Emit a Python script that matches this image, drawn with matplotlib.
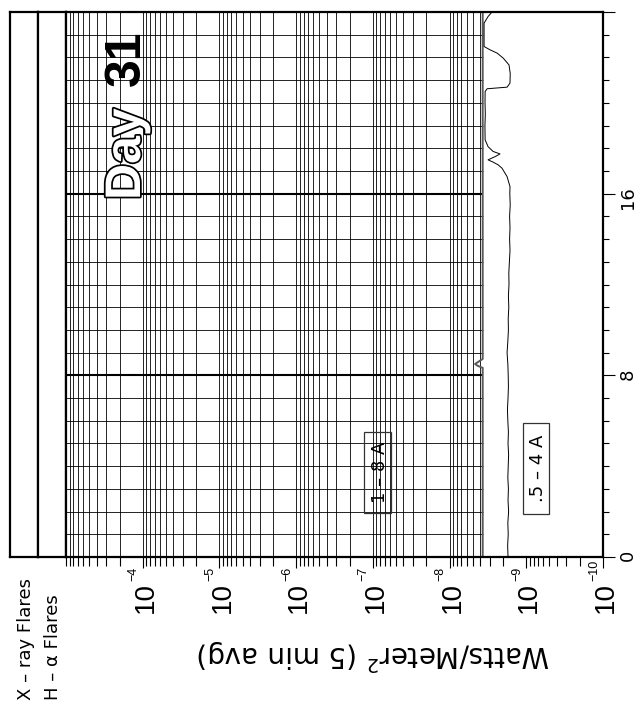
import matplotlib
matplotlib.use('Agg')
import matplotlib.pyplot as plt
import matplotlib.patheffects as pe
from matplotlib.patches import Rectangle
from matplotlib.transforms import offset_copy

plt.rcParams['font.family'] = ['DejaVu Sans']

# GOES x-ray flux, day 31 (hours UT vs W/m^2)
long_hours = [0.0, 8.33, 8.42, 8.50, 8.60, 8.72, 24.0]
long_flux = [3.7e-9, 3.7e-9, 4.3e-9, 4.65e-9, 4.2e-9, 3.7e-9, 3.7e-9]

short_hours = [0.0, 0.5, 1.0, 1.5, 2.0, 2.5, 3.0, 3.5, 4.0, 4.5, 5.0, 5.5,
               6.0, 6.5, 7.0, 7.5, 8.0, 8.5, 9.0, 9.5, 10.0, 10.5, 11.0, 11.5,
               12.0, 12.5, 13.0, 13.5, 14.0, 14.5, 15.0, 15.5, 16.0, 16.31,
               16.75, 17.12, 17.27, 17.39, 17.49, 17.63, 17.75, 17.86, 18.07,
               18.37, 19.0, 19.5, 20.0, 20.50, 20.62, 20.69, 20.87, 21.3,
               21.67, 21.97, 22.19, 22.33, 22.48, 23.0, 23.51, 23.80, 24.0]
short_flux = [1.73e-9, 1.75e-9, 1.72e-9, 1.74e-9, 1.70e-9, 1.73e-9, 1.71e-9,
              1.74e-9, 1.72e-9, 1.70e-9, 1.73e-9, 1.71e-9, 1.74e-9, 1.76e-9,
              1.73e-9, 1.71e-9, 1.72e-9, 1.74e-9, 1.78e-9, 1.74e-9, 1.71e-9,
              1.72e-9, 1.69e-9, 1.71e-9, 1.68e-9, 1.69e-9, 1.66e-9, 1.63e-9,
              1.65e-9, 1.63e-9, 1.65e-9, 1.62e-9, 1.64e-9, 1.63e-9,
              1.78e-9, 2.07e-9, 2.33e-9, 2.71e-9, 3.15e-9, 2.55e-9, 2.20e-9,
              2.71e-9, 3.15e-9, 3.44e-9, 3.46e-9, 3.42e-9, 3.45e-9, 3.44e-9,
              3.24e-9, 1.78e-9, 1.63e-9, 1.62e-9, 1.68e-9, 2.0e-9, 2.40e-9,
              2.95e-9, 3.55e-9, 3.55e-9, 3.55e-9, 3.15e-9, 2.80e-9]

decades = [1e-4, 1e-5, 1e-6, 1e-7, 1e-8, 1e-9, 1e-10]
decade_exps = ['-4', '-5', '-6', '-7', '-8', '-9', '-10']
hour_ticks = [0, 8, 16, 24]
hour_labels = ['0', '8', '16', '']

W, H = 637, 707
fig = plt.figure(figsize=(W / 100, H / 100), dpi=100)
bot = 1 - 557 / H
hgt = 545 / H

# flare strips on the left
for x0 in (10, 38):
    sa = fig.add_axes([x0 / W, bot, 28 / W, hgt])
    sa.set_xticks([])
    sa.set_yticks([])
    for s in sa.spines.values():
        s.set_linewidth(1.6)

ax = fig.add_axes([66 / W, bot, 537 / W, hgt])
ax.set_xscale('log')
ax.set_xlim(1e-3, 1e-10)
ax.set_ylim(0, 24)

# log grid, cut off at the 1-8 A background level
grid_low = 3.7e-9
grid_x = []
minor_x = []
for n in range(-10, -3):
    for k in range(1, 10):
        v = k * 10.0 ** n
        if k > 1:
            minor_x.append(v)
        if v >= 4e-9:
            grid_x.append(v)
grid_x.append(1e-3)
minor_x.append(1e-3)
ax.vlines(grid_x, 0, 24, color='black', lw=0.6, zorder=1)
thin_h = [h for h in range(1, 24) if h not in (8, 16)]
ax.hlines(thin_h, grid_low, 1e-3, color='black', lw=0.6, zorder=1)
ax.hlines([8, 16], grid_low, 1e-3, color='black', lw=1.5, zorder=1)

ax.plot(long_flux, long_hours, color='0.35', lw=1.4, zorder=2)
ax.plot(short_flux, short_hours, color='black', lw=0.7, zorder=2)

ax.set_xticks(decades)
ax.set_xticks(minor_x, minor=True)
ax.tick_params(axis='x', which='both', direction='out', top=False,
               labelbottom=False, width=0.8, color='black')
ax.tick_params(axis='x', which='major', length=8)
ax.tick_params(axis='x', which='minor', length=6.5)

ax.yaxis.tick_right()
ax.set_yticks(hour_ticks)
ax.set_yticklabels(hour_labels)
ax.set_yticks(range(25), minor=True)
ax.tick_params(axis='y', which='both', direction='out', left=False, width=0.8)
ax.tick_params(axis='y', which='major', length=8.5, pad=3, labelsize=13,
               labelrotation=90)
ax.tick_params(axis='y', which='minor', length=4.5)
for s in ax.spines.values():
    s.set_linewidth(1.6)

# decade labels written as 10 with a small exponent sitting just past it
trans = ax.get_xaxis_transform()
for v, e in zip(decades, decade_exps):
    ax.text(v, 0, '10', rotation=90, fontsize=20, ha='center', va='top',
            family='Liberation Sans',
            transform=offset_copy(trans, fig=fig, x=3, y=-25, units='dots'),
            clip_on=False)
    ax.text(v, 0, '\u2212' + e[1:], rotation=90, fontsize=9, ha='center',
            va='bottom', family='Liberation Sans',
            transform=offset_copy(trans, fig=fig, x=-9, y=-24, units='dots'),
            clip_on=False)

# channel labels
boxes = [((364 - 66) / 537, 44 / 545, 27 / 537, 81 / 545, '1 \u2013 8 A'),
         ((523 - 66) / 537, 43 / 545, 26 / 537, 91 / 545, '.5 \u2013 4 A')]
for bx, by, bw, bh, txt in boxes:
    ax.add_patch(Rectangle((bx, by), bw, bh, transform=ax.transAxes,
                           fill=False, ec='0.2', lw=0.9, zorder=3))
    ax.text(bx + bw / 2 + 0.004, by + bh / 2, txt, rotation=90, fontsize=13,
            ha='center', va='center', transform=ax.transAxes, zorder=3)

fig.text(26 / W, 1 - 700 / H, 'X \u2013 ray Flares', rotation=90,
         ha='center', va='bottom', fontsize=13)
fig.text(53 / W, 1 - 700 / H, 'H \u2013 \u03b1 Flares', rotation=90,
         ha='center', va='bottom', fontsize=13)
fig.text(374 / W, 1 - 655 / H, 'Watts/Meter$^2$ (5 min avg)', rotation=180,
         ha='center', va='center', fontsize=20)

fig.text(140 / W, 1 - 200 / H, 'Day', rotation=90, rotation_mode='anchor',
         ha='left', va='baseline', fontsize=36, fontweight='bold',
         family='Liberation Sans', color='white', zorder=5,
         path_effects=[pe.withStroke(linewidth=2.5, foreground='black')])
fig.text(140 / W, 1 - 86 / H, '31', rotation=90, rotation_mode='anchor',
         ha='left', va='baseline', fontsize=36, fontweight='bold',
         family='Liberation Sans', color='black', zorder=5)

fig.savefig('out.png', dpi=100, facecolor='white')
